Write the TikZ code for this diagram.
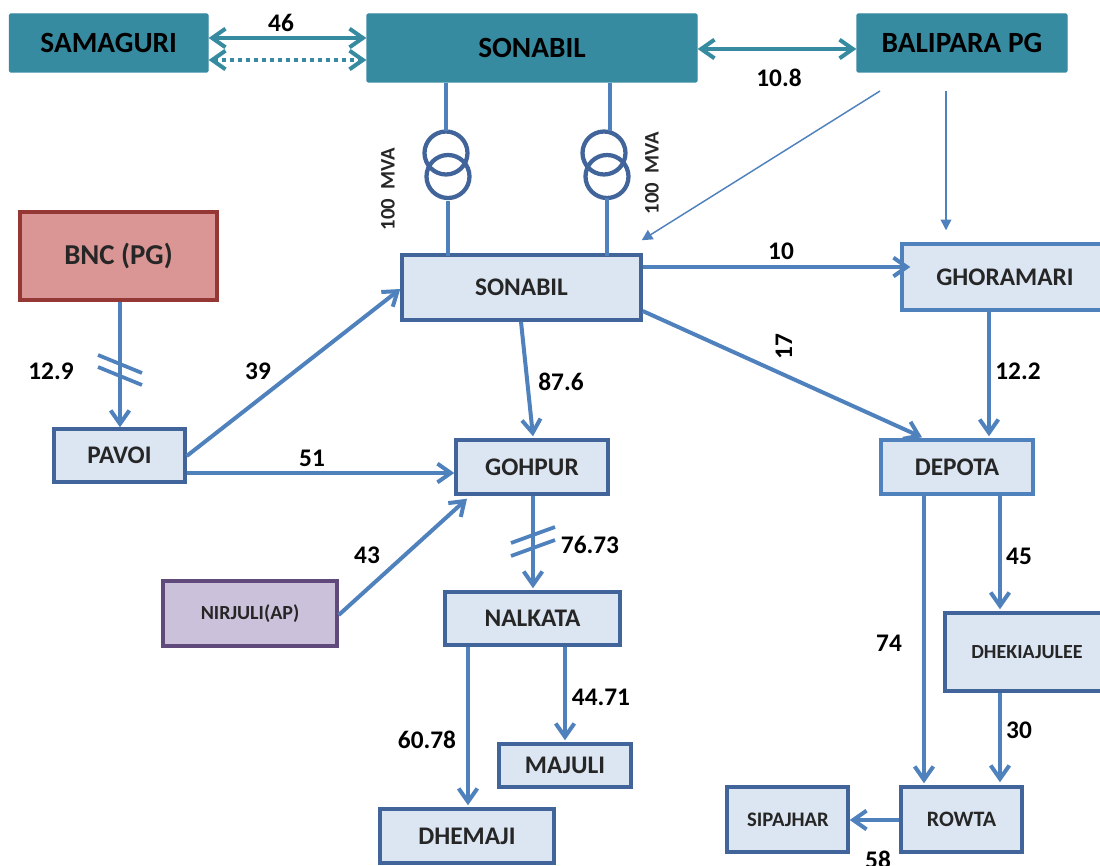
\documentclass[tikz,border=0pt]{standalone}
\usepackage{fontspec}
\setmainfont{Carlito}
\usetikzlibrary{arrows.meta}
\def\px{*0.75pt}
\newcommand\fz[1]{\fontsize{#1}{#1}\selectfont\bfseries}
\definecolor{teal1}{HTML}{378BA1}
\definecolor{boxfill}{HTML}{DCE6F2}
\definecolor{boxline}{HTML}{41659A}
\definecolor{boxlight}{HTML}{4F81BD}
\definecolor{arrowc}{HTML}{4F81BD}
\definecolor{redfill}{HTML}{D99694}
\definecolor{redline}{HTML}{953735}
\definecolor{purfill}{HTML}{CCC1DA}
\definecolor{purline}{HTML}{604A7B}
\definecolor{ink}{HTML}{262626}
\tikzset{
  box/.style={draw=boxline,fill=boxfill,line width=2.6pt,inner sep=0pt,text=ink,font=\fz{19}},
  lightbox/.style={box,draw=boxlight},
  tealbox/.style={box,draw=teal1,line width=1pt,fill=teal1,text=black,font=\fz{22},rounded corners=1pt},
  redbox/.style={box,draw=redline,fill=redfill,font=\fz{21.6}},
  purbox/.style={box,draw=purline,fill=purfill,font=\fz{15}},
  lab/.style={inner sep=0pt,text=black,font=\fz{19}},
  smalllab/.style={inner sep=0pt,text=ink,font=\fz{15.5},rotate=90},
  conn/.style={draw=arrowc,line width=3pt,-{Straight Barb[length=10pt,width=14pt]}},
  plain/.style={draw=arrowc,line width=3pt},
  tealconn/.style={draw=teal1,line width=3pt,{Straight Barb[length=10pt,width=14pt]}-{Straight Barb[length=10pt,width=14pt]}},
  thin/.style={draw=arrowc,line width=1.1pt,-{Triangle[length=8pt,width=8pt]}},
  coil/.style={circle,draw=boxline,line width=3.2pt,minimum size=43*0.75pt,inner sep=0pt,outer sep=0pt},
  tick/.style={draw=arrowc,line width=2.8pt}
}
\newcommand\bx[7]{\node[#6,minimum width={(#4-#3)*0.75pt},minimum height={(#5-#2)*0.75pt}] (#1) at ({(#3+#4)/2},{(#2+#5)/2}) {#7};}
\begin{document}
\begin{tikzpicture}[x=0.75pt,y=-0.75pt]
\useasboundingbox (0,0) rectangle (1100,866);
\clip (0,0) rectangle (1100,866);
\bx{sam}{14}{9.5}{208}{72}{tealbox}{SAMAGURI}
\bx{top}{14}{367}{697}{82}{tealbox}{\raisebox{-1.5pt}{SONABIL}}
\bx{bal}{14}{857}{1067}{72}{tealbox}{BALIPARA PG}
\bx{bnc}{212}{20}{217}{300}{redbox}{BNC (PG)}
\bx{son}{255}{402}{641}{320}{box}{SONABIL}
\bx{gho}{244}{902}{1108}{310}{lightbox}{GHORAMARI}
\bx{pav}{429}{54}{185}{482}{box}{PAVOI}
\bx{goh}{440}{456}{608}{494}{box}{GOHPUR}
\bx{dep}{440}{881}{1033}{494}{lightbox}{DEPOTA}
\bx{nir}{581}{163}{337}{646}{purbox}{NIRJULI(AP)}
\bx{nal}{592}{445}{620}{645}{box}{NALKATA}
\bx{dhk}{613}{945}{1108}{691}{box}{}
\bx{maj}{744}{499}{631}{787}{box}{MAJULI}
\bx{dhe}{809}{380}{554}{863}{box}{DHEMAJI}
\bx{sip}{787}{727}{848}{852}{box}{}
\bx{row}{787}{901}{1022}{852}{box,font=\fz{16.5}}{ROWTA}
\node[inner sep=0pt,text=ink,font=\fz{15}] (dhktext) at (1027,652) {DHEKIAJULEE};
\node[inner sep=0pt,text=ink,font=\fz{15.5}] (siptext) at (788,820) {SIPAJHAR};
\node[coil] (tla) at (446,153) {};
\node[coil] (tlb) at (448,176.5) {};
\node[coil] (tra) at (604,153) {};
\node[coil] (trb) at (607,176.5) {};
\draw[plain] ([xshift=-86\px]top.south) -- (tla.north);
\draw[plain] ([yshift=-3\px]tlb.south) -- ([xshift=-73.5\px,yshift=-3\px]son.north);
\draw[plain] ([xshift=78\px]top.south) -- ([xshift=6\px]tra.north);
\draw[plain] (trb.south) -- ([xshift=85.5\px,yshift=-3\px]son.north);
\draw[tealconn] ([yshift=5\px]sam.east) -- ([yshift=10\px]top.west);
\draw[tealconn,dash pattern=on 3pt off 3pt] ([yshift=-17\px]sam.east) -- ([yshift=-12\px]top.west);
\draw[tealconn] ([yshift=-1\px]top.east) -- ([yshift=-6\px]bal.west);
\coordinate (bala) at (880,91);
\coordinate (balb) at (946,91);
\draw[thin] (bala) -- ([xshift=-1\px,yshift=13\px]son.north east);
\draw[thin] (balb) -- ([xshift=-59\px,yshift=12\px]gho.north);
\draw[conn] ([yshift=20.5\px]son.east) -- ([xshift=10\px,yshift=10\px]gho.west);
\draw[conn] ([xshift=1.5\px]bnc.south) -- ([xshift=0.5\px]pav.north);
\draw[conn] ([yshift=-0.5\px]pav.east) -- ([yshift=-1.5\px]son.west);
\draw[conn] ([yshift=-17.5\px]pav.east) -- ([yshift=-6\px]goh.west);
\draw[conn] ([xshift=-0.5\px]son.south) -- ([xshift=1\px,yshift=2\px]goh.north);
\draw[conn] ([yshift=-23.5\px]son.east) -- ([xshift=-35\px,yshift=1\px]dep.north);
\draw[conn] ([xshift=-16\px]gho.south) -- ([xshift=32\px,yshift=2\px]dep.north);
\draw[conn] ([yshift=-1.5\px]nir.east) -- ([xshift=-65\px,yshift=-3\px]goh.south);
\draw[conn] ([xshift=1\px]goh.south) -- ([xshift=0.5\px,yshift=2\px]nal.north);
\draw[conn] ([xshift=-64.5\px]nal.south) -- ([xshift=1\px,yshift=2\px]dhe.north);
\draw[conn] ([xshift=32.5\px]nal.south) -- ([yshift=2\px]maj.north);
\draw[conn] ([xshift=43\px]dep.south) -- ([xshift=-26.5\px,yshift=2\px]dhk.north);
\draw[conn] ([xshift=-33\px]dep.south) -- ([xshift=-37.5\px,yshift=2\px]row.north);
\draw[conn] ([xshift=-26.5\px]dhk.south) -- ([xshift=38.5\px,yshift=3\px]row.north);
\draw[conn] ([yshift=-0.5\px]row.west) -- ([yshift=-0.5\px]sip.east);
\draw[tick] (98,355) -- (142,373);
\draw[tick] (98,367) -- (142,385);
\draw[tick] (511,543) -- (555,527);
\draw[tick] (511,556) -- (555,540);
\node[lab] (l46) at (281,23) {46};
\node[lab] (l108) at (779,78) {10.8};
\node[smalllab] (mvaa) at (388,189) {100\ \ MVA};
\node[smalllab] (mvab) at (652,173) {100\ \ MVA};
\node[lab] (l10) at (781,251) {10};
\node[lab] (l129) at (51,371) {12.9};
\node[lab] (l39) at (258,371) {39};
\node[lab] (l51) at (312,458) {51};
\node[lab] (l876) at (561,382) {87.6};
\node[lab,rotate=90] (l17) at (784,347) {17};
\node[lab] (l122) at (1018,371) {12.2};
\node[lab] (l43) at (367,555) {43};
\node[lab] (l7673) at (590,545) {76.73};
\node[lab] (l6078) at (427,740) {60.78};
\node[lab] (l4471) at (601,697) {44.71};
\node[lab] (l45) at (1019,556) {45};
\node[lab] (l74) at (889,643) {74};
\node[lab] (l30) at (1019,730) {30};
\node[lab] (l58) at (878,860) {58};
\end{tikzpicture}
\end{document}
